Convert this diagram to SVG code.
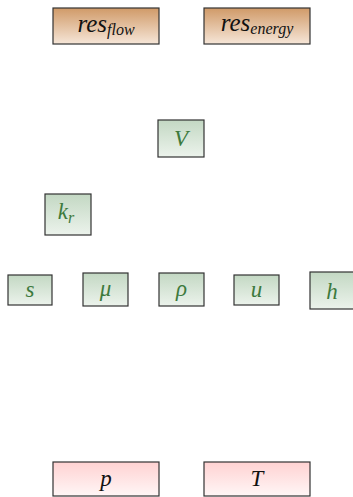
<svg xmlns="http://www.w3.org/2000/svg" width="353" height="497" viewBox="0 0 353 497">
<defs>
<linearGradient id="gO" x1="0" y1="0" x2="0" y2="1"><stop offset="0" stop-color="#d09a68"/><stop offset="1" stop-color="#f6e6d8"/></linearGradient>
<linearGradient id="gG" x1="0" y1="0" x2="0" y2="1"><stop offset="0" stop-color="#c3d8c3"/><stop offset="1" stop-color="#ecf3ec"/></linearGradient>
<linearGradient id="gP" x1="0" y1="0" x2="0" y2="1"><stop offset="0" stop-color="#ffd2d2"/><stop offset="1" stop-color="#fff6f6"/></linearGradient>
</defs>
<style>
rect{stroke:#333;stroke-width:1.2}
.o{fill:url(#gO)}
.g{fill:url(#gG)}
.p{fill:url(#gP)}
text{font-family:'Liberation Serif',serif;font-style:italic;text-anchor:middle}
.tg{fill:#3d7a3d;font-size:23px}
.tk{fill:#111;font-size:23px}
.big{font-size:25px}
.sub{font-size:16px}
</style>
<g id="connectors"/>
<g id="res_flow"><rect class="o" x="53" y="8" width="106" height="36"/><text class="tk big" x="106" y="32">res<tspan class="sub" dy="3">flow</tspan></text></g>
<g id="res_energy"><rect class="o" x="204" y="8" width="106" height="36"/><text class="tk big" x="257" y="31">res<tspan class="sub" dy="3">energy</tspan></text></g>
<g id="V"><rect class="g" x="158" y="120" width="46" height="37"/><text class="tg" x="181" y="146">V</text></g>
<g id="kr"><rect class="g" x="45" y="194" width="46" height="41"/><text class="tg" x="66" y="219">k<tspan class="sub" dy="4">r</tspan></text></g>
<g id="s"><rect class="g" x="8" y="275" width="44" height="30"/><text class="tg" x="30" y="297">s</text></g>
<g id="mu"><rect class="g" x="83" y="273" width="45" height="33"/><text class="tg" x="105.5" y="296">μ</text></g>
<g id="rho"><rect class="g" x="159" y="273" width="45" height="33"/><text class="tg" x="181.5" y="296">ρ</text></g>
<g id="u"><rect class="g" x="234" y="275" width="45" height="30"/><text class="tg" x="256.5" y="297">u</text></g>
<g id="h"><rect class="g" x="310" y="272" width="46" height="37"/><text class="tg" x="332" y="299">h</text></g>
<g id="p"><rect class="p" x="53" y="462" width="106" height="34"/><text class="tk" x="106" y="486">p</text></g>
<g id="T"><rect class="p" x="204" y="462" width="106" height="34"/><text class="tk" x="257" y="486">T</text></g>
</svg>
